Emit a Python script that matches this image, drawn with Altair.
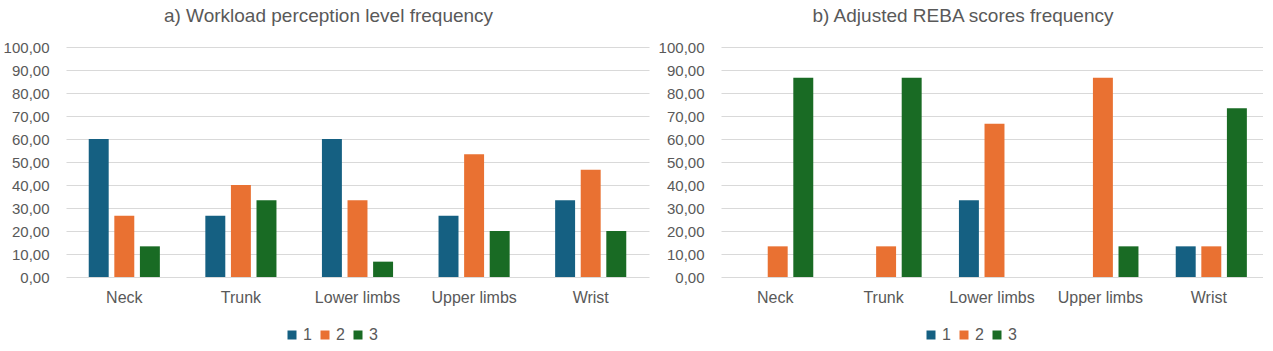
import altair as alt
import pandas as pd

categories = ["Neck", "Trunk", "Lower limbs", "Upper limbs", "Wrist"]
levels = ["1", "2", "3"]

# a) Workload perception level frequency
wp_1 = [60.00, 26.67, 60.00, 26.67, 33.33]
wp_2 = [26.67, 40.00, 33.33, 53.33, 46.67]
wp_3 = [13.33, 33.33, 6.67, 20.00, 20.00]

# b) Adjusted REBA scores frequency
reba_1 = [0.00, 0.00, 33.33, 0.00, 13.33]
reba_2 = [13.33, 13.33, 66.67, 86.67, 13.33]
reba_3 = [86.67, 86.67, 0.00, 13.33, 73.33]

y_ticks = [0, 10, 20, 30, 40, 50, 60, 70, 80, 90, 100]
colors = ["#156082", "#E97132", "#196B24"]

FONT = "Liberation Sans"
TXT = "#595959"


def long_df(s1, s2, s3):
    rows = []
    for i, c in enumerate(categories):
        for lv, s in zip(levels, (s1, s2, s3)):
            rows.append({"part": c, "level": lv, "value": s[i]})
    return pd.DataFrame(rows)


def panel(df, title, width, legend_x):
    return alt.Chart(df).mark_bar().encode(
        x=alt.X("part:N", sort=categories, title=None,
                scale=alt.Scale(paddingInner=0.39, paddingOuter=0.195),
                axis=alt.Axis(labelAngle=0, domain=False, ticks=False,
                              labelPadding=12, labelFontSize=16,
                              labelColor=TXT, labelFont=FONT)),
        xOffset=alt.XOffset("level:N", sort=levels,
                            scale=alt.Scale(paddingInner=0.22, paddingOuter=0)),
        y=alt.Y("value:Q", title=None,
                scale=alt.Scale(domain=[0, 100], nice=False),
                axis=alt.Axis(values=y_ticks, domain=False, ticks=False,
                              labelPadding=17, labelFontSize=15,
                              labelColor=TXT, labelFont=FONT,
                              gridColor="#D9D9D9", gridWidth=1,
                              labelExpr="replace(format(datum.value, '.2f'), '.', ',')")),
        color=alt.Color("level:N", sort=levels,
                        scale=alt.Scale(domain=levels, range=colors),
                        legend=alt.Legend(title=None, orient="none",
                                          direction="horizontal",
                                          legendX=legend_x, legendY=280,
                                          symbolType="square", symbolSize=81,
                                          symbolStrokeWidth=0,
                                          labelFontSize=16, labelColor=TXT,
                                          labelFont=FONT, labelOffset=3,
                                          columnPadding=5)),
    ).properties(
        width=width, height=230,
        title=alt.TitleParams(title, fontSize=19, font=FONT, color=TXT,
                              fontWeight="normal", dx=-29, offset=14),
    )


left = panel(long_df(wp_1, wp_2, wp_3), "a) Workload perception level frequency", 583, 218)
right = panel(long_df(reba_1, reba_2, reba_3), "b) Adjusted REBA scores frequency", 542, 202)

chart = alt.hconcat(left, right, spacing=9).resolve_scale(
    color="independent"
).resolve_legend(
    color="independent"
).properties(
    padding={"left": 3, "top": 7, "right": 0, "bottom": 0},
    background="white",
).configure_view(stroke=None)

chart.save("out.html", embed_options={"renderer": "svg", "actions": False})
